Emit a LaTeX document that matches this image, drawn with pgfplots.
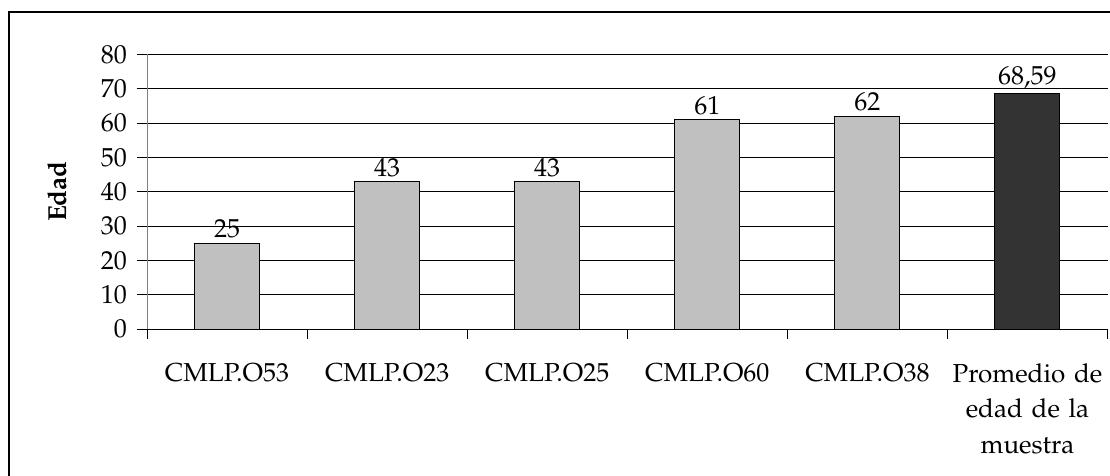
\documentclass[border=0pt]{standalone}
\usepackage[T1]{fontenc}
\usepackage{mathpazo}
\usepackage{pgfplots}
\pgfplotsset{compat=1.18}
\definecolor{barlight}{HTML}{C0C0C0}
\definecolor{bardark}{HTML}{333333}
\newcommand{\lblfont}{\fontsize{19.5}{26.6}\selectfont}
\begin{document}
\begin{tikzpicture}[x=1pt,y=1pt]
\useasboundingbox (0,0) rectangle (832.5,356.25);
\begin{scope}
  \clip (0,0) rectangle (832.5,356.25);
  \draw[line width=1.5pt] (6.4,-30) rectangle (880,346.9);
\end{scope}
\begin{axis}[
    at={(110.25pt,109.5pt)}, anchor=south west,
    scale only axis,
    width=720.4pt, height=206pt,
    ymin=0, ymax=80,
    ytick={0,10,...,80},
    xmin=-0.5, xmax=5.5,
    xtick={-0.5,0.5,...,5.5},
    x tick label as interval,
    xticklabels={CMLP.O53,CMLP.O23,CMLP.O25,CMLP.O60,CMLP.O38,{Promedio de\\edad de la\\muestra}},
    xticklabel style={align=center, text width=130pt, font=\lblfont, yshift=-15pt},
    yticklabel style={font=\lblfont, xshift=-4pt},
    axis x line*=bottom,
    axis y line*=left,
    x axis line style={-, black, line width=0.75pt},
    y axis line style={-, gray, line width=0.75pt},
    tick align=outside,
    major tick length=7.5pt,
    tick style={black, line width=0.75pt},
    ymajorgrids,
    grid style={black, line width=0.75pt},
    ylabel={\textbf{Edad}},
    ylabel style={at={(axis description cs:-0.0937,0.5)}, anchor=center, font=\lblfont},
    ybar, bar width=48.75pt, bar shift=0pt,
    nodes near coords,
    nodes near coords style={font=\lblfont, black},
    /pgf/number format/.cd, use comma, 1000 sep={}, precision=2,
]
\addplot[draw=black, line width=0.75pt, fill=barlight] coordinates {(0,25) (1,43) (2,43) (3,61) (4,62)};
\addplot[draw=black, line width=0.75pt, fill=bardark] coordinates {(5,68.59)};
\end{axis}
\end{tikzpicture}
\end{document}
